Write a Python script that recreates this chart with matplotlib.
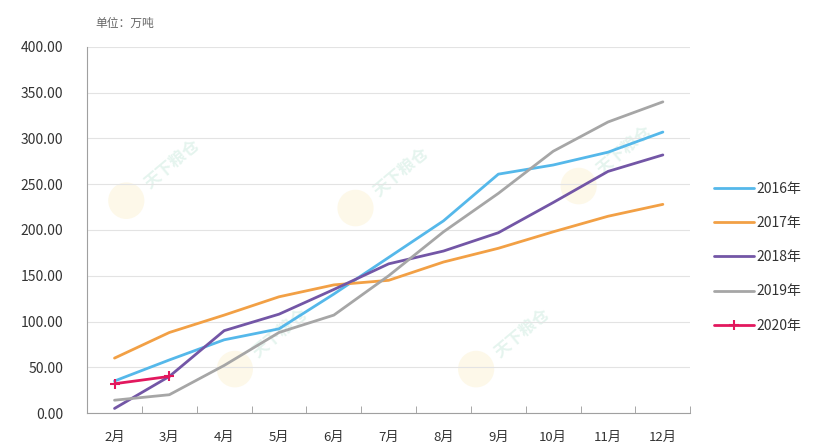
import matplotlib
matplotlib.use("Agg")
import matplotlib.pyplot as plt
from matplotlib.patches import Ellipse
import numpy as np

plt.rcParams['font.family'] = ['Noto Sans CJK SC', 'DejaVu Sans']

months = ["2月", "3月", "4月", "5月", "6月", "7月", "8月", "9月", "10月", "11月", "12月"]
y2016 = [35, 58, 80, 92, 130, 170, 210, 261, 271, 285, 307]
y2017 = [60, 88, 107, 127, 140, 145, 165, 180, 198, 215, 228]
y2018 = [5, 40, 90, 108, 135, 163, 177, 197, 230, 264, 282]
y2019 = [14, 20, 52, 88, 107, 150, 198, 240, 286, 318, 340]
y2020 = [32, 40]

series = [
    ("2016年", y2016, "#55B8EA", None),
    ("2017年", y2017, "#F2A045", None),
    ("2018年", y2018, "#7356A6", None),
    ("2019年", y2019, "#A6A6A6", None),
    ("2020年", y2020, "#E2185E", "+"),
]

fig = plt.figure(figsize=(8.14, 4.47), dpi=100)
ax = fig.add_axes([0.107, 0.076, 0.741, 0.819])

x = np.arange(len(months))
for name, vals, color, marker in series:
    ax.plot(x[:len(vals)], vals, color=color, lw=2.0, label=name,
            marker=marker, markersize=7, markeredgewidth=1.5,
            solid_capstyle='round', solid_joinstyle='round')

# faint watermarks
for wx, wy in [(0.12, 0.68), (0.50, 0.66), (0.87, 0.72), (0.30, 0.22), (0.70, 0.22)]:
    ax.add_patch(Ellipse((wx - 0.055, wy - 0.10), 0.06, 0.10, transform=ax.transAxes,
                         color="#FBEFC8", alpha=0.4, lw=0, zorder=0))
    ax.text(wx + 0.02, wy, "天下粮仓", transform=ax.transAxes, rotation=40,
            fontsize=12, color="#A8DCC8", alpha=0.3, ha="center", va="center",
            fontweight="bold", zorder=0)

ax.set_xlim(-0.5, len(months) - 0.5)
ax.set_ylim(0, 400)
ax.set_yticks(np.arange(0, 401, 50))
ax.set_yticklabels([f"{v:.2f}" for v in np.arange(0, 401, 50)], fontsize=10, color="#333333")
ax.set_xticks(x)
ax.set_xticklabels(months, fontsize=9.5, color="#333333")
ax.set_xticks(np.arange(-0.5, len(months), 1), minor=True)
ax.tick_params(axis='x', which='major', length=0, pad=13)
ax.tick_params(axis='x', which='minor', length=5, color="#999999", direction='in')
ax.tick_params(axis='y', length=0, pad=17)

ax.grid(axis='y', color="#E3E3E3", lw=0.8)
ax.set_axisbelow(True)
for s in ["top", "right"]:
    ax.spines[s].set_visible(False)
ax.spines["left"].set_color("#A0A0A0")
ax.spines["bottom"].set_color("#A0A0A0")

fig.text(0.117, 0.948, "单位：万吨", fontsize=8.5, color="#666666", ha="left", va="center")

leg = ax.legend(loc="upper left", bbox_to_anchor=(1.018, 0.665), frameon=False,
                fontsize=10, handlelength=2.9, handletextpad=0.15, labelspacing=1.45,
                labelcolor="#333333")

fig.savefig("out.png", dpi=100)
